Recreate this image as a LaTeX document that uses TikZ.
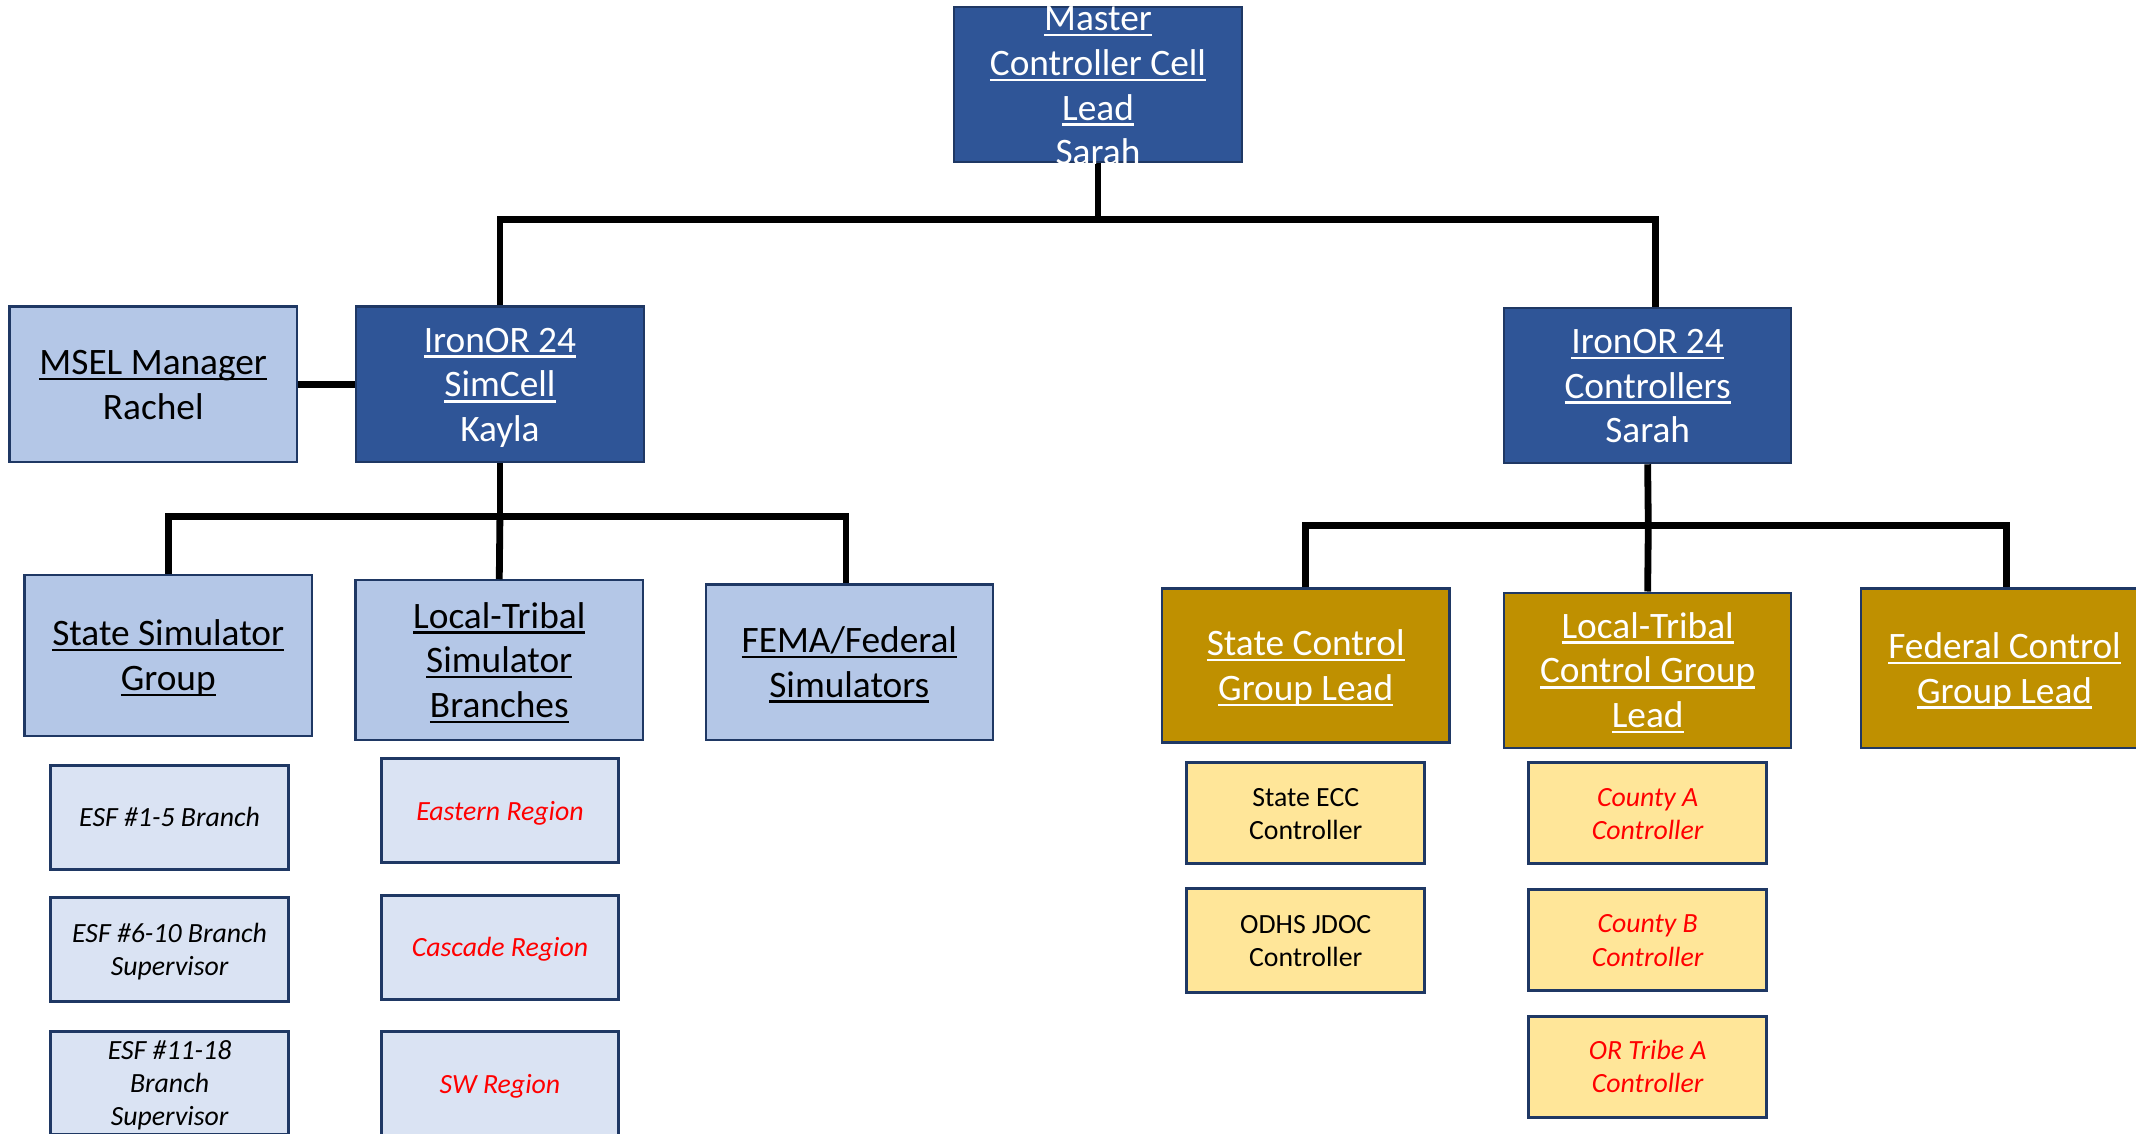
\documentclass[tikz,border=0pt]{standalone}
\usepackage{fontspec}
\setmainfont{Carlito}
\definecolor{dkblue}{HTML}{2F5597}
\definecolor{navy}{HTML}{1F3864}
\definecolor{ltblue}{HTML}{B4C7E7}
\definecolor{paleblue}{HTML}{DAE3F3}
\definecolor{gold}{HTML}{BF9000}
\definecolor{paleyellow}{HTML}{FFE699}
\definecolor{redtxt}{HTML}{FF0000}
\newcommand{\myul}[1]{\setbox0\hbox{#1}\rlap{\rule[-0.15em]{\wd0}{0.065em}}\box0}
\newcommand{\bigfont}{\fontsize{13.7pt}{16.4pt}\selectfont}
\newcommand{\smallfont}{\fontsize{10.2pt}{12.2pt}\selectfont}
\newcommand{\ts}{\rule{0pt}{0.952em}}
\newcommand{\bs}{\rule[-0.269em]{0pt}{0.269em}}
\begin{document}
\begin{tikzpicture}[x=0.5pt,y=-0.5pt,
 box/.style={rectangle, draw=navy, align=center, inner sep=0pt},
 bigbox/.style={box, line width=0.8pt, minimum width=105.5pt, minimum height=57pt, font=\bigfont},
 darkbox/.style={bigbox, fill=dkblue, text=white},
 lightbox/.style={bigbox, fill=ltblue, text=black},
 goldbox/.style={bigbox, fill=gold, text=white},
 smallbox/.style={box, line width=1.1pt, minimum width=87.5pt, minimum height=38pt, font=\smallfont},
 esfbox/.style={smallbox, fill=paleblue, font=\smallfont\itshape},
 regbox/.style={smallbox, fill=paleblue, text=redtxt, font=\smallfont\itshape},
 ctlbox/.style={smallbox, fill=paleyellow, text=black},
 cntbox/.style={smallbox, fill=paleyellow, text=redtxt, font=\smallfont\itshape},
 link/.style={line width=2.5pt, black}
]
\useasboundingbox (0,0) rectangle (1568,832);

% top level
\node[darkbox] (master) at (806,62) {};
\node[lightbox] (msel) at (112.5,282) {\ts\myul{MSEL Manager}\\Rachel\bs};
\node[darkbox] (simcell) at (367,282) {\ts\myul{IronOR 24}\\\myul{SimCell}\\Kayla\bs};
\node[darkbox] (ctrl) at (1209.5,283) {\ts\myul{IronOR 24}\\\myul{Controllers}\\Sarah\bs};

% simulator groups
\node[lightbox, minimum height=59pt] (ssg) at (123.5,481) {\ts\myul{State Simulator}\\\myul{Group}\bs};
\node[lightbox, minimum height=58.5pt] (ltsb) at (366.5,484.5) {\ts\myul{Local-Tribal}\\\myul{Simulator}\\\myul{Branches}\bs};
\node[lightbox] (fema) at (623.5,486) {\ts\myul{FEMA/Federal}\\\myul{Simulators}\bs};

% control groups
\node[goldbox, minimum height=56.5pt] (scgl) at (958.5,488.5) {\ts\myul{State Control}\\\myul{Group Lead}\bs};
\node[goldbox] (ltcgl) at (1209.5,492) {\ts\myul{Local-Tribal}\\\myul{Control Group}\\\myul{Lead}\bs};
\node[goldbox, minimum height=58.5pt] (fcgl) at (1471.5,490.5) {\ts\myul{Federal Control}\\\myul{Group Lead}\bs};

% small boxes
\node[esfbox] (esf1) at (124.5,600) {\ts ESF \#1-5 Branch\bs};
\node[esfbox] (esf2) at (124.5,697) {\ts ESF \#6-10 Branch\\Supervisor\bs};
\node[esfbox] (esf3) at (124.5,795) {\ts ESF \#11-18\\Branch\\Supervisor\bs};
\node[regbox, minimum width=87pt] (east) at (367,595) {\ts Eastern Region\bs};
\node[regbox, minimum width=87pt] (casc) at (367,695.5) {\ts Cascade Region\bs};
\node[regbox, minimum width=87pt] (sw) at (367,795.5) {\ts SW Region\bs};
\node[ctlbox, minimum height=37pt] (secc) at (958.5,597) {\ts State ECC\\Controller\bs};
\node[ctlbox] (odhs) at (958.5,690.5) {\ts ODHS JDOC\\Controller\bs};
\node[cntbox, minimum height=37pt] (ca) at (1209.5,597) {\ts County A\\Controller\bs};
\node[cntbox, minimum height=37pt] (cb) at (1209.5,690) {\ts County B\\Controller\bs};
\node[cntbox, minimum height=37pt] (ora) at (1209.5,783) {\ts OR Tribe A\\Controller\bs};

% connectors
\coordinate (topbar) at (806,161);
\draw[link] (master.south) -- (topbar);
\draw[link] (simcell.north) |- (topbar) -| ([xshift=2.75pt]ctrl.north);
\draw[link] (msel.east) -- (simcell.west);
\coordinate (simbar) at (367,379);
\draw[link] (simcell.south) -- (simbar);
\draw[link] (ssg.north) |- (simbar) -| ([xshift=-1.25pt]fema.north);
\draw[link] (simbar) -- (ltsb.north);
\coordinate (ctrlbar) at (1210,386);
\draw[link] (ctrl.south) -- (ctrlbar);
\draw[link] (scgl.north) |- (ctrlbar) -| ([xshift=0.75pt]fcgl.north);
\draw[link] (ctrlbar) -- (ltcgl.north);

% master text (overflows its box)
\node[font=\bigfont, text=white, align=center, inner sep=0pt] (mastertext) at (806,63) {\myul{Master}\\\myul{Controller Cell}\\\myul{Lead}\\Sarah};
\end{tikzpicture}
\end{document}
